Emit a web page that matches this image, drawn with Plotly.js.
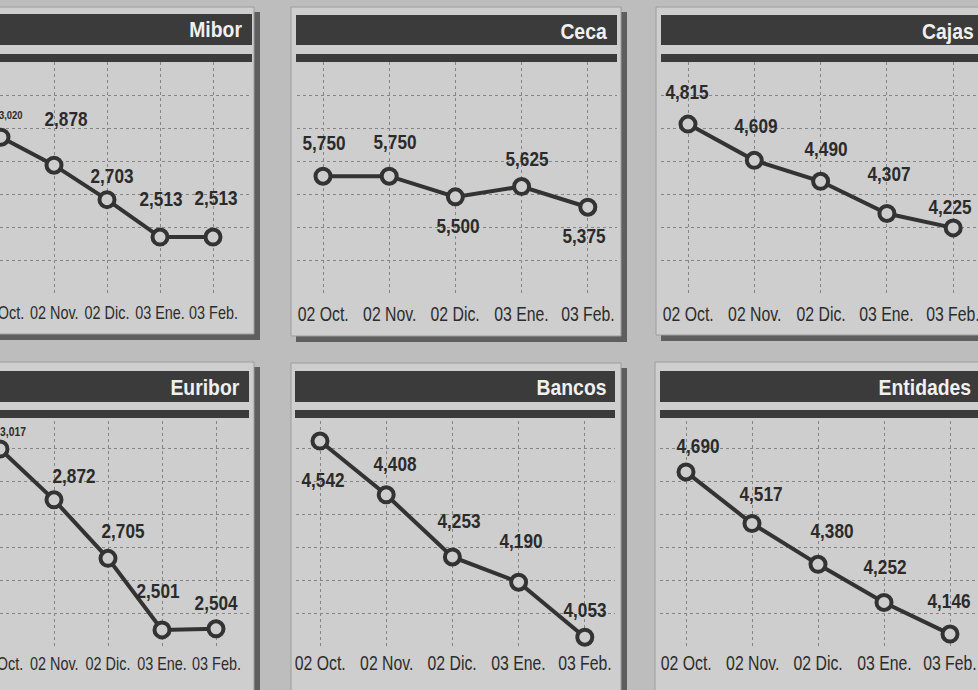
<!DOCTYPE html>
<html><head><meta charset="utf-8">
<script src="https://cdn.plot.ly/plotly-3.0.1.min.js"></script>
<style>html,body{margin:0;padding:0;background:#bdbdbd;}#chart{width:978px;height:690px;}</style>
</head><body><div id="chart"></div>
<script>
// ---- data ----
const months = ["02 Oct.", "02 Nov.", "02 Dic.", "03 Ene.", "03 Feb."];
const mibor = [3.020, 2.878, 2.703, 2.513, 2.513];
const ceca = [5.750, 5.750, 5.500, 5.625, 5.375];
const cajas = [4.815, 4.609, 4.490, 4.307, 4.225];
const euribor = [3.017, 2.872, 2.705, 2.501, 2.504];
const bancos = [4.542, 4.408, 4.253, 4.190, 4.053];
const entidades = [4.690, 4.517, 4.380, 4.252, 4.146];
const titles = ["Mibor", "Ceca", "Cajas", "Euribor", "Bancos", "Entidades"];
const series = [mibor, ceca, cajas, euribor, bancos, entidades];

// ---- layout geometry (pixels) ----
const W = 978, H = 690;
const geom = [
  {frame:[-6,254,7,334], plot:[0,252,62,293], first:1, step:53, yr:[2.229,3.402], bar:[-6,252], head:[14,45], thin:[54,62], tr:244, tc:30, tk:313, tks:18, tsc:0.8,
   off:[[10,-22,11],[12,-46],[5,-24],[1,-38],[3,-39]]},
  {frame:[291,621,7,336], plot:[297,617,62,293], first:323, step:66.2, yr:[4.339,7.129], bar:[296,617], head:[15,45], thin:[54,62], tr:609, tc:31, tk:314, tks:20, tsc:0.79,
   off:[[1,-33],[6,-34],[3,29],[5,-28],[-4,29]]},
  {frame:[656,990,7,335], plot:[661,978,62,293], first:688, step:66.3, yr:[3.855,5.168], bar:[661,990], head:[15,45], thin:[54,62], tr:976, tc:31, tk:314, tks:20, tsc:0.79,
   off:[[-1,-32],[2,-34],[5,-32],[2,-39],[-3,-21]]},
  {frame:[-6,254,362,700], plot:[0,250,415,646], first:0, step:54, yr:[2.455,3.114], bar:[-6,249], head:[371,402], thin:[410,418], tr:242, tc:387, tk:664, tks:18, tsc:0.8,
   off:[[13,-17,12],[20,-24],[15,-27],[-4,-39],[0,-26]]},
  {frame:[291,621,363,700], plot:[296,615,415,646], first:320, step:66.2, yr:[4.031,4.607], bar:[295,615], head:[371,402], thin:[410,418], tr:608, tc:387, tk:663, tks:20, tsc:0.79,
   off:[[3,39],[9,-31],[7,-36],[2,-41],[0,-27]]},
  {frame:[655,990,362,700], plot:[660,978,415,646], first:686, step:66, yr:[4.106,4.881], bar:[660,990], head:[371,402], thin:[410,418], tr:973, tc:387, tk:663, tks:20, tsc:0.79,
   off:[[12,-26],[9,-30],[14,-33],[1,-35],[-1,-33]]}
];

const FONT = "'Liberation Sans', Arial, Helvetica, sans-serif";
const INK = '#333333';
const PANEL = '#cecece';
const BAR = '#3b3b3b';
const px = x => x / W;
const py = y => 1 - y / H;
const fmt = v => v.toFixed(3).replace('.', ',');

const traces = [];
const shapes = [];
const annotations = [];
const scaleOf = [];   // horizontal condensing for each annotation
const layout = {
  width: W, height: H,
  margin: {l:0, r:0, t:0, b:0},
  paper_bgcolor: '#bdbdbd',
  plot_bgcolor: 'rgba(0,0,0,0)',
  showlegend: false,
  font: {family: FONT, color: INK}
};
function addAnn(a, s, right) { annotations.push(a); scaleOf.push([s, right]); }

geom.forEach((g, i) => {
  const n = i + 1;
  const xa = 'xaxis' + (n === 1 ? '' : n), ya = 'yaxis' + (n === 1 ? '' : n);
  const xr = 'x' + (n === 1 ? '' : n), yr = 'y' + (n === 1 ? '' : n);
  const [fx0, fx1, fy0, fy1] = g.frame;
  // panel frame + shadow
  shapes.push({type:'rect', xref:'paper', yref:'paper', layer:'below', x0:px(fx1), x1:px(fx1+6), y0:py(fy0+5), y1:py(fy1+6), fillcolor:'#5e5e5e', line:{width:0}});
  shapes.push({type:'rect', xref:'paper', yref:'paper', layer:'below', x0:px(fx0+5), x1:px(fx1+6), y0:py(fy1), y1:py(fy1+6), fillcolor:'#5e5e5e', line:{width:0}});
  shapes.push({type:'rect', xref:'paper', yref:'paper', layer:'below', x0:px(fx0), x1:px(fx1), y0:py(fy0), y1:py(fy1), fillcolor:PANEL, line:{color:'#9c9c9c', width:1}});
  // header bars
  shapes.push({type:'rect', xref:'paper', yref:'paper', layer:'above', x0:px(g.bar[0]), x1:px(g.bar[1]), y0:py(g.head[0]), y1:py(g.head[1]), fillcolor:BAR, line:{width:0}});
  shapes.push({type:'rect', xref:'paper', yref:'paper', layer:'above', x0:px(g.bar[0]), x1:px(g.bar[1]), y0:py(g.thin[0]), y1:py(g.thin[1]), fillcolor:BAR, line:{width:0}});
  addAnn({xref:'paper', yref:'paper', x:px(g.tr), y:py(g.tc), xanchor:'right', yanchor:'middle', showarrow:false,
    text:'<b>' + titles[i] + '</b>', font:{family:FONT, size:22, color:'#f0f0f0'}}, 0.88, true);

  const [x0, x1, y0, y1] = g.plot;
  layout[xa] = {
    domain:[px(x0), px(x1)], anchor:yr,
    range:[(x0 - g.first) / g.step, (x1 - g.first) / g.step],
    tickvals:[0,1,2,3,4], showticklabels:false, ticks:'',
    showgrid:true, gridcolor:'#858585', griddash:'dot', gridwidth:1,
    zeroline:false, showline:false, fixedrange:true
  };
  const span = g.yr[1] - g.yr[0];
  layout[ya] = {
    domain:[py(y1), py(y0)], anchor:xr, range:g.yr,
    tick0:g.yr[0], dtick:span / 7, showticklabels:false, ticks:'',
    showgrid:true, gridcolor:'#858585', griddash:'dot', gridwidth:1,
    zeroline:false, showline:false, fixedrange:true
  };
  // category labels under the axis, placed through the x axis
  months.forEach((m, k) => {
    addAnn({xref:xr, yref:'paper', x:k, y:py(g.tk), xanchor:'center', yanchor:'middle', showarrow:false,
      text:m, font:{family:FONT, size:g.tks, color:'#2c2c2c'}}, g.tsc, false);
  });
  const vals = series[i];
  traces.push({
    type:'scatter', mode:'lines+markers', x:[0,1,2,3,4], y:vals, xaxis:xr, yaxis:yr,
    cliponaxis:false, hoverinfo:'skip',
    line:{color:INK, width:4},
    marker:{symbol:'circle', size:15, color:PANEL, line:{color:INK, width:4}}
  });
  vals.forEach((v, k) => {
    const o = g.off[k];
    addAnn({xref:xr, yref:yr, x:k, y:v, showarrow:false, xshift:o[0], yshift:-o[1],
      xanchor:'center', yanchor:'middle', text:'<b>' + fmt(v) + '</b>',
      font:{family:FONT, size:o[2] || 20, color:'#2b2b2b'}}, 0.86, false);
  });
});

layout.shapes = shapes;
layout.annotations = annotations;

// condensed look of the newspaper typeface: narrow the real text horizontally
function condense(el, s, anchorRight) {
  const b = el.getBBox();
  const cx = anchorRight ? b.x + b.width : b.x + b.width / 2;
  const tr = el.getAttribute('transform') || '';
  el.setAttribute('transform', tr + ' translate(' + cx + ',0) scale(' + s + ',1) translate(' + (-cx) + ',0)');
}
Plotly.newPlot('chart', traces, layout, {staticPlot:true, displayModeBar:false}).then(gd => {
  gd.querySelectorAll('.annotation').forEach(a => {
    const idx = +a.getAttribute('data-index');
    const t = a.querySelector('.annotation-text');
    const sc = scaleOf[idx];
    if (t && sc) condense(t, sc[0], sc[1]);
  });
});
</script>
</body></html>
